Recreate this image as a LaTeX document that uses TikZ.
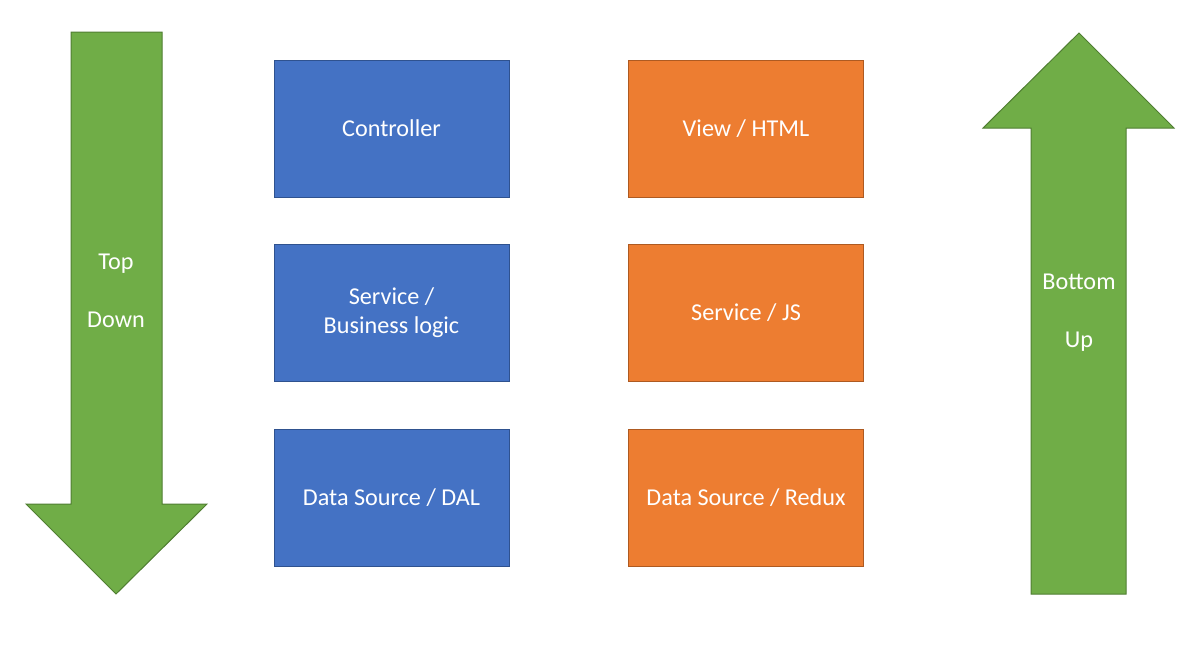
\documentclass[tikz,border=0pt]{standalone}
\usepackage{fontspec}
\setmainfont{Carlito}
\usepackage{tikz}
\definecolor{blue_fill}{HTML}{4472C4}
\definecolor{blue_line}{HTML}{2F528F}
\definecolor{orange_fill}{HTML}{ED7D31}
\definecolor{orange_line}{HTML}{AE5A21}
\definecolor{green_fill}{HTML}{70AD47}
\definecolor{green_line}{HTML}{507E32}
\begin{document}
\begin{tikzpicture}[x=0.5pt, y=-0.5pt,
		box_style/.style={rectangle,minimum width=117.5pt,minimum height=68.5pt,line width=0.5pt,text=white,align=center,font=\fontsize{12.1}{14.5}\selectfont},
		blue_box/.style={box_style,draw=blue_line,fill=blue_fill},
		orange_box/.style={box_style,draw=orange_line,fill=orange_fill},
		arrow_style/.style={draw=green_line,fill=green_fill,line width=0.5pt},
		label_style/.style={text=white,align=center,font=\fontsize{12.1}{14.5}\selectfont}]
		
		\useasboundingbox (0,0) rectangle (1202,660);
		
		% left arrow
		\draw[arrow_style] (71,32) -- (162,32) -- (162,504) -- (207,504) -- (116,594) -- (26,504) -- (71,504) -- cycle;
		% right arrow
		\draw[arrow_style] (1079,33) -- (1174,128) -- (1126,128) -- (1126,594) -- (1031,594) -- (1031,128) -- (983,128) -- cycle;
		
		\node[label_style] (top) at (116,291)  {Top\\[14.5pt]Down};
		\node[label_style] (bottom) at (1079,313)  {Bottom\\[14.5pt]Up};
		
		\node[blue_box] (c1) at (391.5,128.5)  {Controller};
		\node[blue_box] (c2) at (391.5,313)  {Service /\\Business logic};
		\node[blue_box] (c3) at (391.5,497.5)  {Data Source / DAL};
		\node[orange_box] (v1) at (746,128.5)  {View / HTML};
		\node[orange_box] (v2) at (746,313)  {Service / JS};
		\node[orange_box] (v3) at (746,497.5)  {Data Source / Redux};
		
		\end{tikzpicture}
\end{document}
